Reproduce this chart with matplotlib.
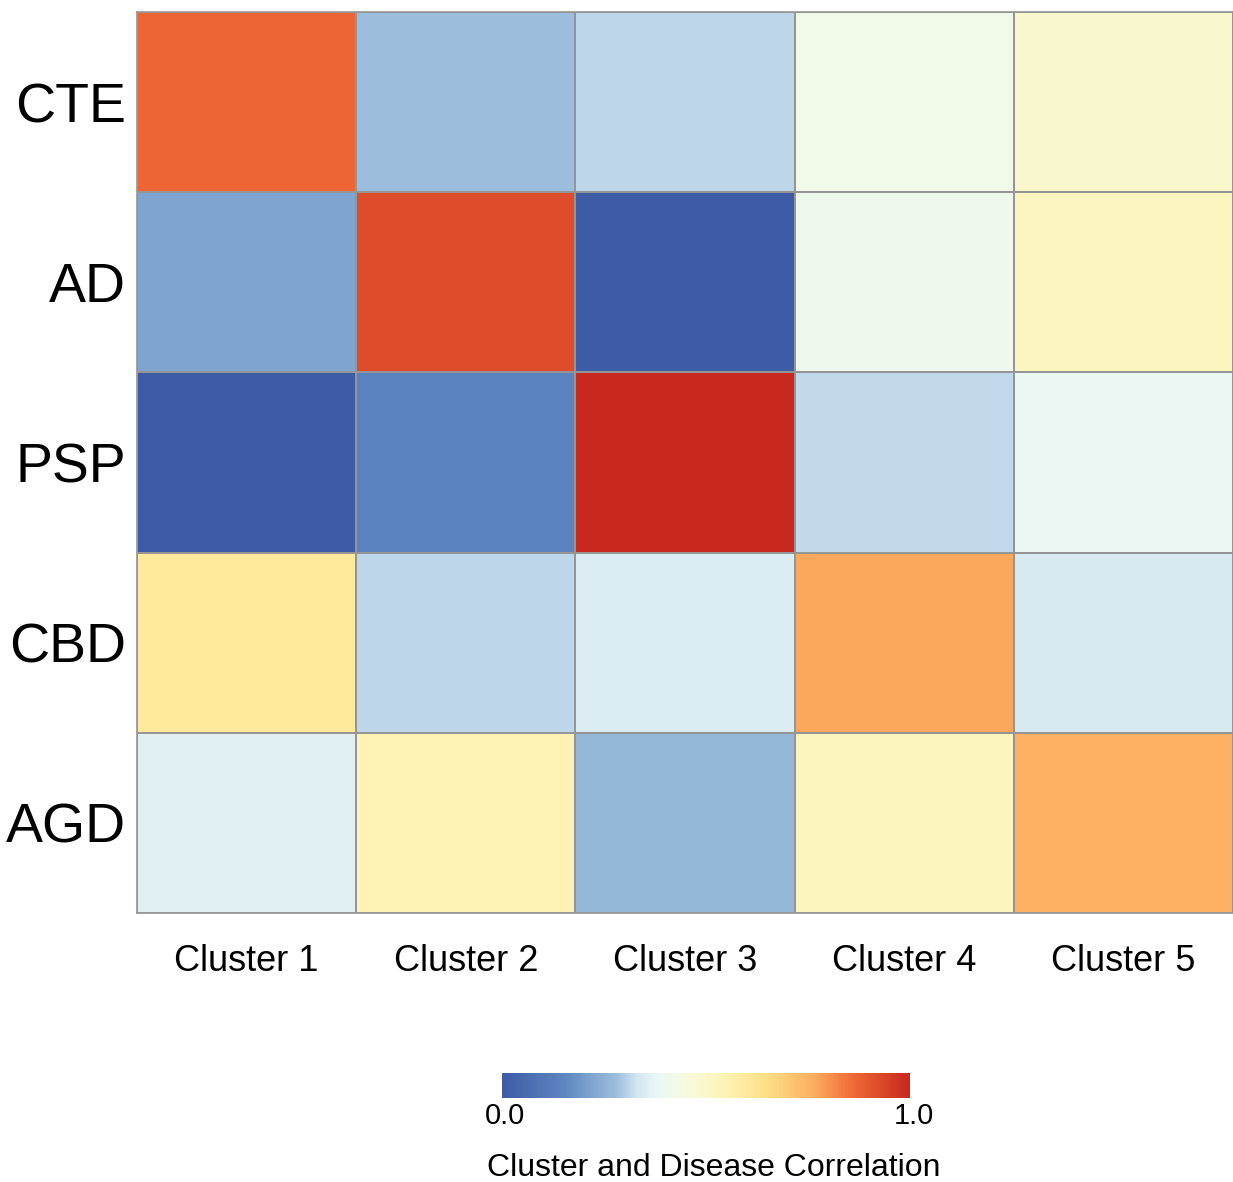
import numpy as np
import matplotlib
matplotlib.use("Agg")
import matplotlib.pyplot as plt
from matplotlib.colors import LinearSegmentedColormap

plt.rcParams['font.family'] = ['Liberation Sans', 'DejaVu Sans']

diseases = ["CTE", "AD", "PSP", "CBD", "AGD"]
clusters = ["Cluster 1", "Cluster 2", "Cluster 3", "Cluster 4", "Cluster 5"]
cte = [0.87, 0.28, 0.31, 0.42, 0.49]
ad = [0.22, 0.92, 0.00, 0.41, 0.52]
psp = [0.00, 0.14, 1.00, 0.315, 0.39]
cbd = [0.60, 0.31, 0.35, 0.77, 0.34]
agd = [0.36, 0.55, 0.265, 0.53, 0.76]
cbar_ticks = ["0.0", "1.0"]
cbar_label = "Cluster and Disease Correlation"

data = np.array([cte, ad, psp, cbd, agd])

cmap = LinearSegmentedColormap.from_list("ref", [
    (0.00, "#3E5BA6"),
    (0.15, "#5D86C0"),
    (0.28, "#9DBEDC"),
    (0.33, "#D2E6F1"),
    (0.38, "#EAF7F5"),
    (0.45, "#F6FADE"),
    (0.55, "#FEF3B4"),
    (0.65, "#FDDF85"),
    (0.76, "#FDB062"),
    (0.86, "#F06A36"),
    (1.00, "#C8281E"),
])

W, H = 1233, 1182
fig = plt.figure(figsize=(W / 100, H / 100), dpi=100)
ax = fig.add_axes([137 / W, 1 - 913 / H, (1233 - 137) / W, (913 - 12) / H])
mesh = ax.pcolormesh(data, cmap=cmap, vmin=0, vmax=1, edgecolor="#959595", linewidth=1.2)
ax.set_xlim(0, 5)
ax.set_ylim(5, 0)
ax.set_xticks(np.arange(5) + 0.5)
ax.set_xticklabels(clusters, fontsize=26)
ax.set_yticks(np.arange(5) + 0.5)
ax.set_yticklabels(diseases, fontsize=40)
ax.tick_params(length=0, pad=8)
ax.tick_params(axis='x', pad=22)
for s in ax.spines.values():
    s.set_color("#959595")
    s.set_linewidth(1.2)

cax = fig.add_axes([502 / W, 1 - 1098 / H, 408 / W, 25 / H])
cb = fig.colorbar(mesh, cax=cax, orientation="horizontal")
cb.outline.set_visible(False)
cax.set_xticks([])
fig.text(505 / W, 1 - 1116 / H, cbar_ticks[0], ha="center", va="center", fontsize=21)
fig.text(914 / W, 1 - 1116 / H, cbar_ticks[1], ha="center", va="center", fontsize=21)
fig.text(714 / W, 1 - 1168 / H, cbar_label, ha="center", va="center", fontsize=23)

fig.savefig("out.png", dpi=100)
